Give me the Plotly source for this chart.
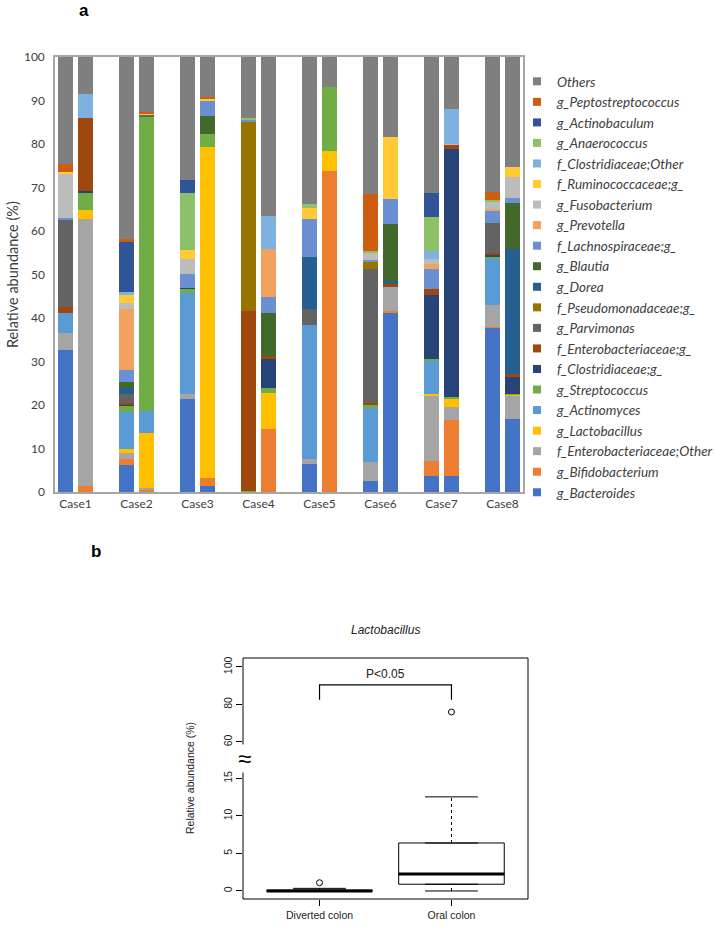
import plotly.graph_objects as go

# ---- panel a: stacked composition, two samples per case ----
cases = ["Case1", "Case2", "Case3", "Case4", "Case5", "Case6", "Case7", "Case8"]

# each list: C1a, C1b, C2a, C2b, ... C8a, C8b  (relative abundance %)
others = [24.5, 8.5, 41.9, 12.6, 28.2, 9.3, 14.0, 36.5, 33.7, 6.9, 31.5, 18.5, 31.3, 11.9, 31.0, 25.4]
peptostreptococcus = [1.9, 0, 0.6, 0.3, 0, 0.2, 0, 0, 0, 0, 13.1, 0, 0, 0, 1.9, 0]
actinobaculum = [0, 0, 11.6, 0, 3.0, 0, 0, 0, 0, 0, 0, 0, 5.5, 0, 0, 0]
anaerococcus = [0, 0, 0, 0, 13.2, 0, 0.4, 0, 1.1, 0, 0.4, 0, 7.9, 0, 0.4, 0]
clostridiaceae_other = [0, 5.6, 0.6, 0, 0, 0, 0, 7.7, 0, 0, 0, 0, 1.7, 8.0, 0, 0]
ruminococcaceae = [0.5, 0, 1.9, 0.4, 2.0, 0.5, 0, 0, 2.5, 0, 0, 14.2, 0, 0, 0, 2.1]
fusobacterium = [10.0, 0, 1.3, 0, 3.4, 0, 0, 0, 0, 0, 1.6, 0, 1.1, 0.3, 1.7, 5.0]
prevotella = [0, 0, 14.1, 0, 0, 0, 0, 11.0, 0, 0, 0, 0, 1.2, 0, 0.4, 0]
lachnospiraceae = [0.4, 0, 2.8, 0, 3.3, 3.5, 0.6, 3.7, 8.6, 0, 0.6, 5.8, 4.6, 0, 2.7, 1.0]
blautia = [0, 0, 1.2, 0, 0, 4.3, 0, 9.9, 0, 0, 0, 13.1, 0, 0, 0, 10.7]
dorea = [0, 0, 1.5, 0, 0, 0, 0, 0, 12.0, 0, 0, 0.4, 0, 0, 0, 28.7]
pseudomonadaceae = [0, 0, 0, 0, 0, 0, 43.5, 0, 0, 0, 1.5, 0, 0, 0, 0, 0]
parvimonas = [20.2, 0, 2.0, 0.5, 0, 0, 0, 0, 3.7, 0, 30.9, 0, 0, 0, 7.0, 0]
enterobacteriaceae_g = [1.3, 16.7, 0.4, 0, 0, 0, 41.2, 0.7, 0, 0, 0.4, 0.8, 1.5, 1.0, 0.4, 0.6]
clostridiaceae_g = [0, 0.4, 0.3, 0, 0.2, 0, 0, 6.5, 0, 0, 0, 0, 14.7, 56.9, 0.4, 3.9]
streptococcus = [0, 4.0, 1.4, 67.6, 1.0, 3.0, 0.3, 1.3, 0, 14.8, 0.8, 0, 0.2, 0.6, 0.5, 0.2]
actinomyces = [4.7, 0, 8.5, 5.0, 23.2, 0, 0, 0, 30.9, 0, 12.3, 0, 7.7, 0, 10.5, 0]
lactobacillus = [0, 2.1, 0.9, 12.7, 0, 76.0, 0, 8.3, 0, 4.5, 0, 0, 0.5, 1.8, 0, 0.3]
enterobacteriaceae_other = [3.8, 61.4, 1.3, 0.4, 1.2, 0, 0, 0, 1.0, 0, 4.3, 5.7, 15.0, 3.0, 5.2, 5.3]
bifidobacterium = [0, 1.3, 1.4, 0.5, 0, 1.9, 0, 14.4, 0, 73.8, 0, 0.2, 3.5, 12.9, 0.2, 0]
bacteroides = [32.7, 0, 6.3, 0, 21.3, 1.3, 0, 0, 6.5, 0, 2.6, 41.3, 3.6, 3.6, 37.7, 16.8]

# legend order (top of stack first)
taxa = [
    ("Others", others, "#7f7f7f"),
    ("g_Peptostreptococcus", peptostreptococcus, "#cf5d10"),
    ("g_Actinobaculum", actinobaculum, "#2f5597"),
    ("g_Anaerococcus", anaerococcus, "#8cc168"),
    ("f_Clostridiaceae;Other", clostridiaceae_other, "#7fb1e0"),
    ("f_Ruminococcaceae;g_", ruminococcaceae, "#ffca33"),
    ("g_Fusobacterium", fusobacterium, "#bcbcbc"),
    ("g_Prevotella", prevotella, "#f3a15f"),
    ("f_Lachnospiraceae;g_", lachnospiraceae, "#6a8fd2"),
    ("g_Blautia", blautia, "#43682b"),
    ("g_Dorea", dorea, "#255e91"),
    ("f_Pseudomonadaceae;g_", pseudomonadaceae, "#997300"),
    ("g_Parvimonas", parvimonas, "#636363"),
    ("f_Enterobacteriaceae;g_", enterobacteriaceae_g, "#9e480e"),
    ("f_Clostridiaceae;g_", clostridiaceae_g, "#264478"),
    ("g_Streptococcus", streptococcus, "#70ad47"),
    ("g_Actinomyces", actinomyces, "#5b9bd5"),
    ("g_Lactobacillus", lactobacillus, "#ffc000"),
    ("f_Enterobacteriaceae;Other", enterobacteriaceae_other, "#a5a5a5"),
    ("g_Bifidobacterium", bifidobacterium, "#ed7d31"),
    ("g_Bacteroides", bacteroides, "#4472c4"),
]

# ---- panel b: Lactobacillus box plot (summary stats) ----
groups = ["Diverted colon", "Oral colon"]
lower_whisker = [0, 0]
q1 = [0, 0.9]
median = [0, 2.27]
q3 = [0.12, 6.4]
upper_whisker = [0.35, 12.55]
outlier_x = [1, 2]
outlier_y = [1.1, 76]
axis_break = 50

W, H = 715, 927
FONT_A = "Lato"
FONT_B = "Liberation Sans"


def px_x(p):
    return p / W


def px_y(p):
    return (H - p) / H


bar_w = 0.246
pair_off = 0.164
bar_x = [i + off for i in range(len(cases)) for off in (-pair_off, pair_off)]

fig = go.Figure()

for name, vals, color in reversed(taxa):
    fig.add_trace(go.Bar(
        x=bar_x, y=vals, width=bar_w,
        marker=dict(color=color, line=dict(width=0)),
        name=name, showlegend=False, xaxis="x", yaxis="y",
    ))

# legend entries with small square swatches
for name, vals, color in taxa:
    fig.add_trace(go.Scatter(
        x=[None], y=[None], mode="markers",
        marker=dict(symbol="square", size=8, color=color),
        name=name, showlegend=True, xaxis="x", yaxis="y",
    ))

# box plot: box only, whiskers/median drawn on top in R style
box_w = 0.8
pos = [1, 2]
fig.add_trace(go.Box(
    x=pos, q1=q1, median=median, q3=q3, lowerfence=q1, upperfence=q3,
    width=box_w, fillcolor="white", line=dict(color="black", width=1),
    showlegend=False, xaxis="x2", yaxis="y2", hoverinfo="skip",
))

wx, wy, cx, cy, mx, my = [], [], [], [], [], []
for p, lw, a, m, b, uw in zip(pos, lower_whisker, q1, median, q3, upper_whisker):
    wx += [p, p, None, p, p, None]
    wy += [lw, a, None, b, uw, None]
    cx += [p - box_w / 4, p + box_w / 4, None, p - box_w / 4, p + box_w / 4, None]
    cy += [lw, lw, None, uw, uw, None]
    mx += [p - box_w / 2, p + box_w / 2, None]
    my += [m, m, None]

fig.add_trace(go.Scatter(x=wx, y=wy, mode="lines", line=dict(color="black", width=1, dash="3px,3px"),
                         showlegend=False, xaxis="x2", yaxis="y2", hoverinfo="skip"))
fig.add_trace(go.Scatter(x=cx, y=cy, mode="lines", line=dict(color="black", width=1),
                         showlegend=False, xaxis="x2", yaxis="y2", hoverinfo="skip"))
fig.add_trace(go.Scatter(x=mx, y=my, mode="lines", line=dict(color="black", width=3),
                         showlegend=False, xaxis="x2", yaxis="y2", hoverinfo="skip"))

for ox, oy in zip(outlier_x, outlier_y):
    fig.add_trace(go.Scatter(
        x=[ox], y=[oy], mode="markers",
        marker=dict(symbol="circle-open", size=6, color="black", line=dict(width=1)),
        showlegend=False, xaxis="x2", yaxis="y3" if oy > axis_break else "y2", hoverinfo="skip",
    ))

# significance bracket
fig.add_trace(go.Scatter(x=[1, 1, 2, 2], y=[82.5, 90.5, 90.5, 82.5], mode="lines",
                         line=dict(color="black", width=1.2),
                         showlegend=False, xaxis="x2", yaxis="y3", hoverinfo="skip"))

tick_a = dict(family=FONT_A, size=12, color="#404040")
tick_b = dict(family=FONT_B, size=10.5, color="#222222")


def label(text, x, y, size, family=FONT_B, color="#222222", angle=0, **kw):
    return dict(text=text, x=px_x(x), y=px_y(y), xref="paper", yref="paper",
                xanchor="center", yanchor="middle", textangle=angle, showarrow=False,
                font=dict(family=family, size=size, color=color), **kw)


fig.update_layout(
    width=W, height=H,
    margin=dict(l=0, r=0, t=0, b=0, pad=0, autoexpand=False),
    paper_bgcolor="white", plot_bgcolor="white",
    barmode="stack",
    showlegend=True,
    legend=dict(
        x=px_x(517), y=px_y(66), xanchor="left", yanchor="top",
        font=dict(family=FONT_A, size=13.5, color="#404040", style="italic"),
        itemsizing="trace", tracegroupgap=0, bgcolor="rgba(0,0,0,0)",
        traceorder="normal",
    ),
    xaxis=dict(
        domain=[px_x(55), px_x(523)], range=[-0.336, 7.336], anchor="y",
        tickvals=list(range(len(cases))), ticktext=cases, tickfont=tick_a,
        showline=True, mirror=True, linecolor="#a6a6a6", linewidth=1.5,
        showgrid=False, zeroline=False, ticks="", automargin=False,
    ),
    yaxis=dict(
        domain=[px_y(492), px_y(57)], range=[0, 100], anchor="x",
        tickvals=list(range(0, 101, 10)), tickfont=tick_a,
        showline=True, mirror=True, linecolor="#a6a6a6", linewidth=1.5,
        showgrid=False, zeroline=False, ticks="", ticklabelstandoff=6, automargin=False,
    ),
    xaxis2=dict(
        domain=[px_x(243), px_x(528)], range=[0.42, 2.58], anchor="y2",
        tickvals=pos, ticktext=groups, tickfont=tick_b,
        ticks="outside", ticklen=6, tickcolor="black",
        showline=False, showgrid=False, zeroline=False, automargin=False,
    ),
    yaxis2=dict(
        domain=[px_y(899), px_y(759)], range=[-1.07, 17.6], anchor="x2",
        tickvals=[0, 5, 10, 15], tickfont=tick_b, tickangle=-90,
        ticks="outside", ticklen=6, tickcolor="black",
        showline=False, showgrid=False, zeroline=False, automargin=False,
    ),
    yaxis3=dict(
        domain=[px_y(759), px_y(658)], range=[50.9, 104.8], anchor="x2",
        tickvals=[60, 80, 100], tickfont=tick_b, tickangle=-90,
        ticks="outside", ticklen=6, tickcolor="black",
        showline=False, showgrid=False, zeroline=False, automargin=False,
    ),
    shapes=[dict(type="rect", xref="paper", yref="paper",
                 x0=px_x(243), x1=px_x(528), y0=px_y(899), y1=px_y(658),
                 line=dict(color="black", width=1))],
    annotations=[
        label("<b>a</b>", 84, 10, 17, color="black"),
        label("<b>b</b>", 96, 551, 17, color="black"),
        label("Relative abundance (%)", 12, 275, 14.5, family=FONT_A, color="#404040", angle=-90),
        label("<i>Lactobacillus</i>", 386, 630, 12),
        label("Relative abundance (%)", 190, 778, 10.5, angle=-90),
        dict(text="P<0.05", x=1.5, y=96.5, xref="x2", yref="y3", showarrow=False,
             xanchor="center", yanchor="middle",
             font=dict(family=FONT_B, size=12, color="#222222")),
        label("≈", 244, 759, 24, color="black", bgcolor="white", borderpad=0),
    ],
)

# drop the default page margin so the figure sits at the window origin
fig.write_html("out.html", config={"displayModeBar": False},
               post_script="document.body.style.margin='0';")
